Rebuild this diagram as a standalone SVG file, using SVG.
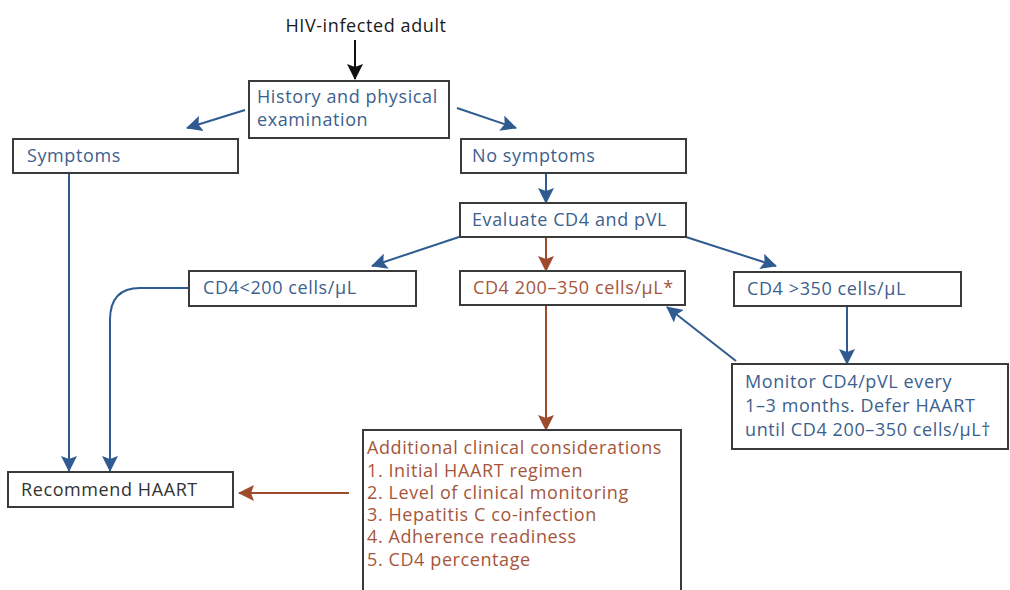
<svg xmlns="http://www.w3.org/2000/svg" width="1010" height="590" viewBox="0 0 1010 590">
<style>
  text { font-family: "Open Sans", "Noto Sans", "DejaVu Sans", sans-serif; font-size: 18px; letter-spacing: 0.6px; }
  .box { fill: #ffffff; stroke: #3a3a3a; stroke-width: 2; }
  .blue { fill: #3d5f8e; }
  .red { fill: #a5563b; }
  .dark { fill: #333333; }
  .blk { fill: #1a1a1a; }
  .cb { fill: none; stroke: #2f5b90; stroke-width: 2; }
  .cr { fill: none; stroke: #9e4a2c; stroke-width: 2; }
  .ck { fill: none; stroke: #111111; stroke-width: 2; }
</style>
<defs>
  <marker id="ab" markerUnits="userSpaceOnUse" markerWidth="16" markerHeight="16" refX="15" refY="8" orient="auto">
    <path d="M0,0 L16,8 L0,16 L3,8 Z" fill="#2f5b90"/>
  </marker>
  <marker id="ar" markerUnits="userSpaceOnUse" markerWidth="16" markerHeight="16" refX="15" refY="8" orient="auto">
    <path d="M0,0 L16,8 L0,16 L3,8 Z" fill="#9e4a2c"/>
  </marker>
  <marker id="ak" markerUnits="userSpaceOnUse" markerWidth="16" markerHeight="16" refX="15" refY="8" orient="auto">
    <path d="M0,0 L16,8 L0,16 L3,8 Z" fill="#111111"/>
  </marker>
</defs>
<rect width="1010" height="590" fill="#ffffff"/>

<g id="connectors">
  <line class="ck" x1="355" y1="40" x2="355" y2="79" marker-end="url(#ak)"/>
  <line class="cb" x1="245" y1="110" x2="187" y2="128" marker-end="url(#ab)"/>
  <line class="cb" x1="457" y1="108" x2="516" y2="128" marker-end="url(#ab)"/>
  <line class="cb" x1="69" y1="173" x2="69" y2="471" marker-end="url(#ab)"/>
  <path class="cb" d="M189,288 L140,288 Q110,288 110,320 L110,471" marker-end="url(#ab)"/>
  <line class="cb" x1="546" y1="173" x2="546" y2="203" marker-end="url(#ab)"/>
  <line class="cb" x1="459" y1="237" x2="372" y2="266" marker-end="url(#ab)"/>
  <line class="cr" x1="546" y1="237" x2="546" y2="271" marker-end="url(#ar)"/>
  <line class="cb" x1="686" y1="237" x2="776" y2="266" marker-end="url(#ab)"/>
  <line class="cr" x1="546" y1="305" x2="546" y2="430" marker-end="url(#ar)"/>
  <line class="cb" x1="847" y1="306" x2="847" y2="364" marker-end="url(#ab)"/>
  <line class="cb" x1="736" y1="361" x2="667" y2="307" marker-end="url(#ab)"/>
  <line class="cr" x1="349" y1="493" x2="239" y2="493" marker-end="url(#ar)"/>
</g>

<g id="start">
  <text class="blk" x="366" y="32" text-anchor="middle">HIV-infected adult</text>
</g>

<g id="history">
  <rect class="box" x="249" y="81" width="200" height="57"/>
  <text class="blue" x="257" y="103">History and physical</text>
  <text class="blue" x="257" y="126">examination</text>
</g>

<g id="symptoms">
  <rect class="box" x="13" y="139" width="225" height="34"/>
  <text class="blue" x="27" y="162">Symptoms</text>
</g>

<g id="no-symptoms">
  <rect class="box" x="461" y="139" width="225" height="34"/>
  <text class="blue" x="472" y="162">No symptoms</text>
</g>

<g id="evaluate">
  <rect class="box" x="460" y="203" width="226" height="34"/>
  <text class="blue" x="472" y="226">Evaluate CD4 and pVL</text>
</g>

<g id="cd4-low">
  <rect class="box" x="189" y="271" width="227" height="35"/>
  <text class="blue" x="203" y="294">CD4&lt;200 cells/µL</text>
</g>

<g id="cd4-mid">
  <rect class="box" x="460" y="271" width="225" height="34"/>
  <text class="red" x="473" y="294">CD4 200–350 cells/µL*</text>
</g>

<g id="cd4-high">
  <rect class="box" x="734" y="272" width="227" height="34"/>
  <text class="blue" x="747" y="295">CD4 &gt;350 cells/µL</text>
</g>

<g id="monitor">
  <rect class="box" x="732" y="364" width="276" height="85"/>
  <text class="blue" x="745" y="388">Monitor CD4/pVL every</text>
  <text class="blue" x="745" y="412">1–3 months. Defer HAART</text>
  <text class="blue" x="745" y="436">until CD4 200–350 cells/µL†</text>
</g>

<g id="recommend">
  <rect class="box" x="8" y="472" width="225" height="35"/>
  <text class="dark" x="21" y="496">Recommend HAART</text>
</g>

<g id="additional">
  <rect class="box" x="363" y="430" width="318" height="180"/>
  <text class="red" x="367" y="454">Additional clinical considerations</text>
  <text class="red" x="367" y="477">1. Initial HAART regimen</text>
  <text class="red" x="367" y="499">2. Level of clinical monitoring</text>
  <text class="red" x="367" y="521">3. Hepatitis C co-infection</text>
  <text class="red" x="367" y="543">4. Adherence readiness</text>
  <text class="red" x="367" y="566">5. CD4 percentage</text>
</g>
</svg>
